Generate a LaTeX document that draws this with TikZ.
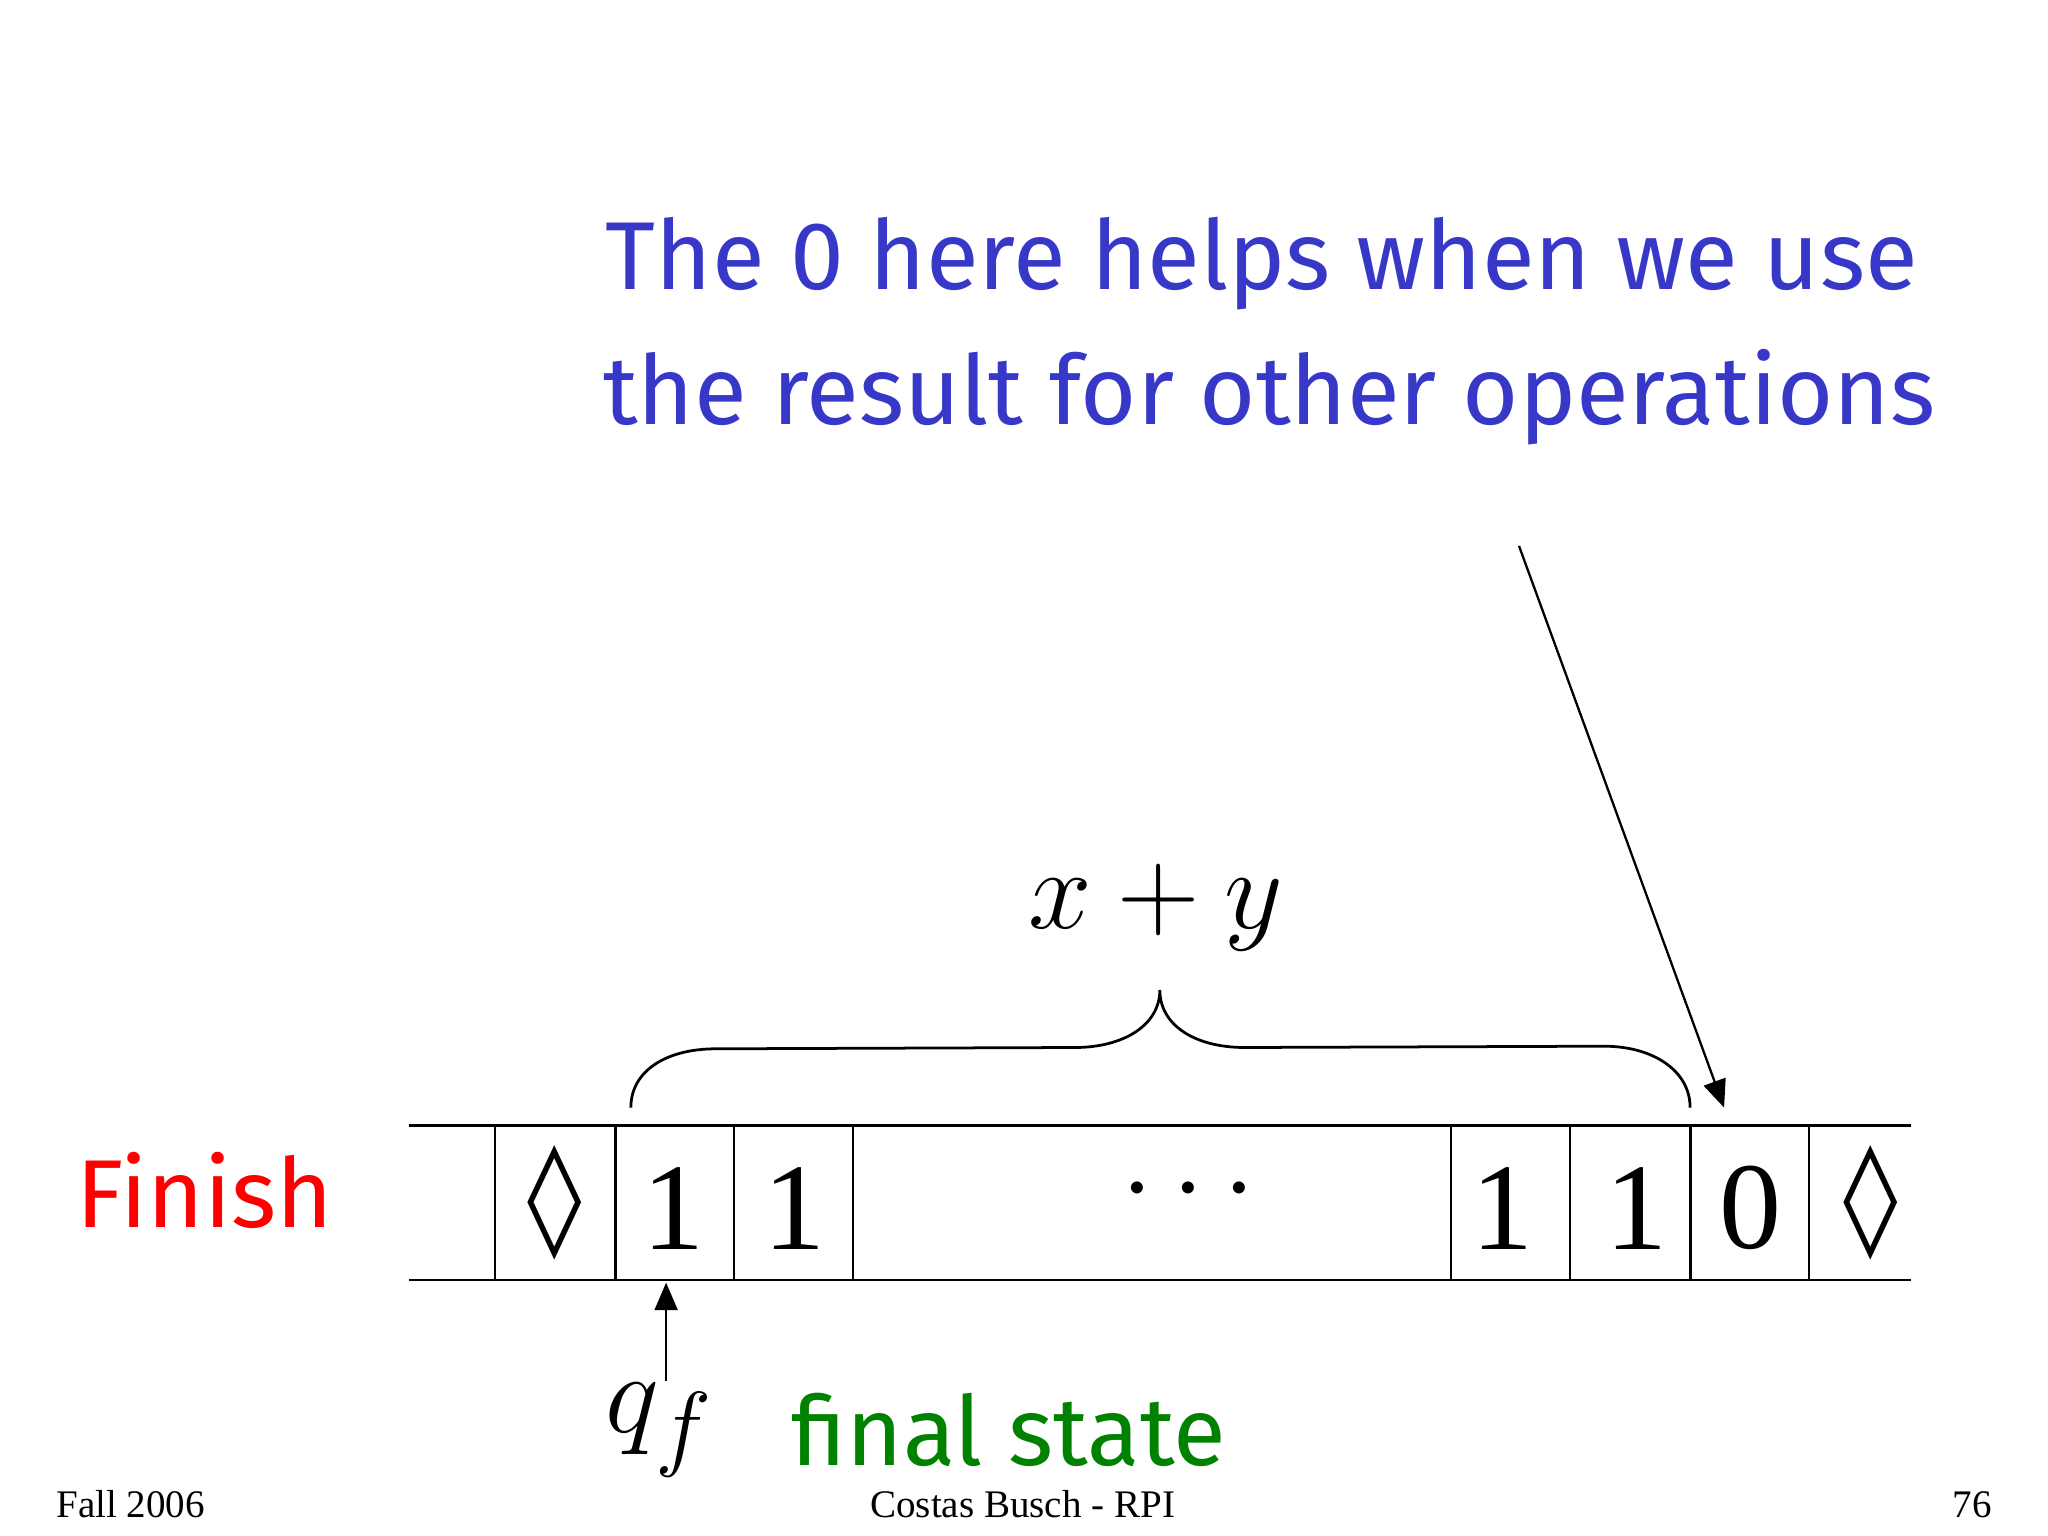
\documentclass[tikz,border=0pt]{standalone}
\usepackage{fontspec}
\setmainfont{Liberation Serif}
\newfontfamily\comic{Fira Sans}
\newfontfamily\dejav{DejaVu Sans}
\usetikzlibrary{arrows.meta}
\definecolor{noteblue}{RGB}{56,56,200}
\definecolor{fingreen}{RGB}{0,130,0}
\begin{document}
\begin{tikzpicture}[x=0.01cm,y=-0.01cm,
  cell/.style={font=\fontsize{27}{30}\selectfont},
  note/.style={font=\comic\fontsize{21}{25}\selectfont,text=noteblue,anchor=base west,inner sep=0},
  foot/.style={font=\fontsize{8.5}{10}\selectfont,anchor=base,inner sep=0},
  arr/.style={-{Triangle[length=6pt,width=5pt]},line width=0.5pt}]
\useasboundingbox (0,0) rectangle (1568,1176);
\node[note] (n1) at (463,222) {The 0 here helps when we use};
\node[note] (n2) at (461,325) {the result for other operations};
% tape
\draw[line width=0.6pt] (313,862) -- (1463,862) (313,980) -- (1463,980);
\foreach \x in {379,471,562,653,1111,1202,1294,1385}
  \draw[line width=0.6pt] (\x,862) -- (\x,980);
\node[cell,font=\dejav\fontsize{24}{28}\selectfont] (c1) at (425,921) {◊};
\node[cell] (c2) at (516,925) {1};
\node[cell] (c3) at (608,925) {1};
\node[cell] (c4) at (910,912) {$\cdots$};
\node[cell] (c5) at (1150,925) {1};
\node[cell] (c6) at (1253,925) {1};
\node[cell] (c7) at (1340,925) {0};
\node[cell,font=\dejav\fontsize{24}{28}\selectfont] (c8) at (1432,921) {◊};
% brace
\draw[line width=0.6pt] (483,848) .. controls (483,820) and (510,803) .. (548,803) -- (823,802)
  .. controls (860,802) and (888,785) .. (888,758)
  .. controls (888,785) and (915,802) .. (953,802) -- (1228,801)
  .. controls (1266,801) and (1294,820) .. (1294,848);
\node[font=\fontsize{28}{32}\selectfont] (xy) at (885,695) {$x+y$};
\coordinate (top) at (1163,418);
\coordinate (tip) at (1320,848);
\draw[arr] (top) -- (tip);
\node[font=\fontsize{30}{34}\selectfont] (q) at (505,1095) {$q_f$};
\coordinate (qa) at (510,1057);
\coordinate (qb) at (510,982);
\draw[arr] (qa) -- (qb);
\node[font=\comic\fontsize{21}{25}\selectfont,text=fingreen,anchor=base west,inner sep=0] (fs) at (605,1122) {final state};
\node[font=\comic\fontsize{21}{25}\selectfont,text=red,anchor=base west,inner sep=0] (fin) at (58,940) {Finish};
\node[foot] (f1) at (100,1162) {Fall 2006};
\node[foot] (f2) at (783,1162) {Costas Busch - RPI};
\node[foot] (f3) at (1510,1162) {76};
\end{tikzpicture}
\end{document}
